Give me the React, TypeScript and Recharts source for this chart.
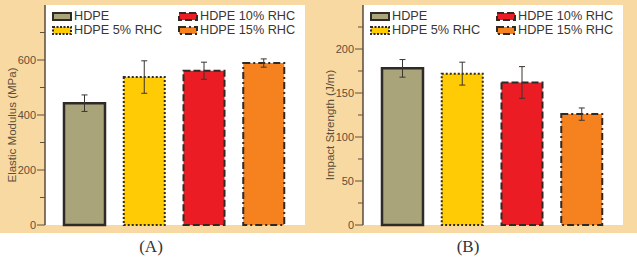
import React from "react";
import {
  Bar,
  BarChart,
  CartesianGrid,
  Cell,
  ErrorBar,
  XAxis,
  YAxis,
} from "recharts";

const categories = ["HDPE", "HDPE 5% RHC", "HDPE 10% RHC", "HDPE 15% RHC"];
const modulus = [443, 538, 561, 589];
const modulusErr = [30, 59, 31, 15];
const impact = [178, 172, 162, 126];
const impactErr = [10, 13, 18, 7];

const modulusTicks = [0, 100, 200, 300, 400, 500, 600, 700];
const impactTicks = [0, 25, 50, 75, 100, 125, 150, 175, 200, 225];

const barColors = ["#A9A47A", "#FFCB05", "#EC1C24", "#F5821F"];
const barDashes = ["", "2 2", "7 3", "7 3 2 3"];

const BEIGE = "#F8D9A2";
const INK = "#2e2a26";
const TICK_INK = "#5e4f3a";
const FRAME = "#5b4a3a";
const FONT = "'Liberation Sans', Arial, sans-serif";

const W = 318;
const H = 233;

function makeTick(isMajor: (v: number) => boolean) {
  return function Tick(props: any) {
    const { x, y, payload } = props;
    const major = isMajor(payload.value);
    const len = major ? 8 : 5;
    return (
      <g>
        <line x1={x - len} y1={y} x2={x} y2={y} stroke={TICK_INK} strokeWidth={1} />
        {major && (
          <text
            x={x - len - 1}
            y={y}
            dy={4}
            textAnchor="end"
            fontSize={11}
            fontFamily={FONT}
            fill={TICK_INK}
          >
            {payload.value}
          </text>
        )}
      </g>
    );
  };
}

function Panel({
  values,
  errs,
  ticks,
  max,
  majorStep,
  title,
}: {
  values: number[];
  errs: number[];
  ticks: number[];
  max: number;
  majorStep: number;
  title: string;
}) {
  const data = categories.map((name, i) => ({ name, v: values[i], e: errs[i] }));
  const frame = { stroke: FRAME, strokeWidth: 1.5 };
  return (
    <div style={{ position: "relative", width: W, height: H }}>
      <BarChart
        width={W}
        height={H}
        data={data}
        margin={{ top: 5, right: 13, left: 0, bottom: 8 }}
        barSize={41}
      >
        <CartesianGrid horizontal={false} vertical={false} fill="#ffffff" />
        <XAxis
          dataKey="name"
          height={0}
          tick={false}
          tickLine={false}
          axisLine={frame}
          padding={{ left: 10, right: 11 }}
        />
        <XAxis xAxisId="top" orientation="top" height={0} tick={false} tickLine={false} axisLine={frame} />
        <YAxis
          domain={[0, max]}
          ticks={ticks}
          interval={0}
          width={45}
          axisLine={frame}
          tickLine={false}
          tickSize={0}
          tickMargin={0}
          tick={makeTick((v) => v % majorStep === 0)}
          label={() => (
            <text
              x={12}
              y={125}
              transform={`rotate(-90 12 125)`}
              textAnchor="middle"
              dominantBaseline="central"
              fontSize={11.5}
              fontFamily={FONT}
              fill={TICK_INK}
            >
              {title}
            </text>
          )}
        />
        <YAxis yAxisId="right" orientation="right" width={0} tick={false} tickLine={false} axisLine={frame} />
        <Bar dataKey="v" isAnimationActive={false}>
          {data.map((d, i) => (
            <Cell
              key={d.name}
              fill={barColors[i]}
              stroke={INK}
              strokeWidth={i === 0 ? 2.5 : 2}
              strokeDasharray={barDashes[i]}
            />
          ))}
          <ErrorBar dataKey="e" width={3} stroke="#3a3530" strokeWidth={1} />
        </Bar>
      </BarChart>
      <Legend />
    </div>
  );
}

function Swatch({ i }: { i: number }) {
  return (
    <svg width={20} height={9} style={{ display: "block", flex: "none" }}>
      <rect
        x={1}
        y={1}
        width={18}
        height={7}
        fill={barColors[i]}
        stroke={INK}
        strokeWidth={2}
        strokeDasharray={barDashes[i] ? (i === 1 ? "2 1.5" : barDashes[i]) : undefined}
      />
    </svg>
  );
}

function Legend() {
  const order = [0, 2, 1, 3];
  return (
    <div
      style={{
        position: "absolute",
        left: 52,
        top: 9,
        display: "grid",
        gridTemplateColumns: "126px 130px",
        rowGap: 0,
        fontFamily: FONT,
        fontSize: 12.7,
        color: "#3a3632",
        lineHeight: "14px",
        whiteSpace: "nowrap",
      }}
    >
      {order.map((i) => (
        <div key={i} style={{ display: "flex", alignItems: "center", gap: 2 }}>
          <Swatch i={i} />
          <span>{categories[i]}</span>
        </div>
      ))}
    </div>
  );
}

export default function App() {
  return (
    <div
      style={{
        position: "absolute",
        left: 0,
        top: 0,
        width: 637,
        height: 259,
        background: "#ffffff",
      }}
    >
      <div style={{ display: "flex", background: BEIGE, width: 637, height: H }}>
        <Panel
          values={modulus}
          errs={modulusErr}
          ticks={modulusTicks}
          max={800}
          majorStep={200}
          title="Elastic Modulus (MPa)"
        />
        <Panel
          values={impact}
          errs={impactErr}
          ticks={impactTicks}
          max={250}
          majorStep={50}
          title="Impact Strength (J/m)"
        />
      </div>
      <div
        style={{
          fontFamily: "'Liberation Serif', 'Times New Roman', serif",
          fontSize: 17,
          lineHeight: "20px",
          color: "#333",
        }}
      >
        <div style={{ position: "absolute", left: 151, top: 237, transform: "translateX(-50%)" }}>(A)</div>
        <div style={{ position: "absolute", left: 468, top: 237, transform: "translateX(-50%)" }}>(B)</div>
      </div>
    </div>
  );
}
